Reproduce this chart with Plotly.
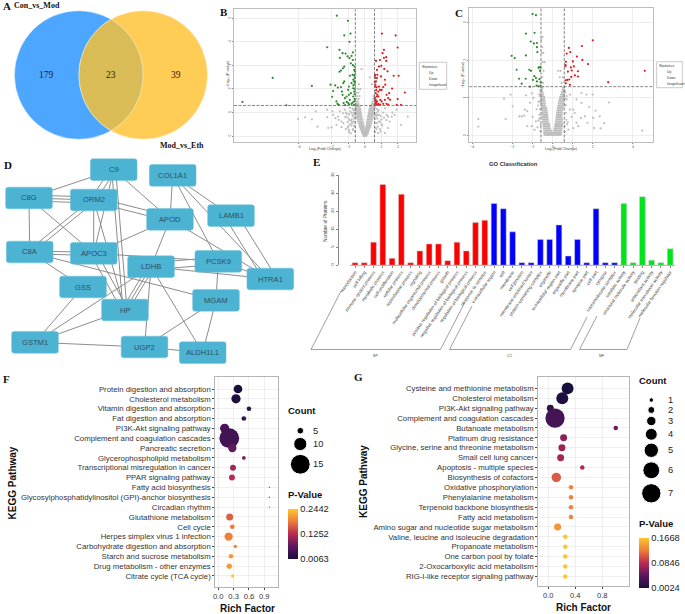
import numpy as np
import plotly.graph_objects as go

W, H = 685, 614
SANS = "Liberation Sans"
SERIF = "Liberation Serif"

# ---------- Panel A ----------
venn_counts = [179, 23, 39]
venn_names = ["Con_vs_Mod", "Mod_vs_Eth"]

# ---------- Panels B, C: volcano values (log2FC, -log10 P) ----------
b_down_x = [-1.70,-1.03,-1.25,-.87,-.93,-5.58,-3.21,-7.41,-4.75,-2.28,-1.54,-1.35,-1.17,-1.52,-1.05,-.93,-.73,-.81,-.73,-.85,-.73,-.63,-1.25,-1.33,-1.45,-1.54,-.65,-.75,-.91,-.65,-2.08,-1.80,-1.25,-1.31,-1.64,-1.45,-1.92,-1.39,-1.98,-1.35,-1.72,-1.66,-1.58,-1.01,-.97,-.81,-.71,-.65,-.85,-.97,-.71,-.65,-1.21,-1.11,-.91,-1.29,-.71,-.65,-.81,-1.01,-.65,-.62,-.62,-.62,-.62,-.62,-.62,-.7,-.75,-.95,-1.1,-1.2,-.6,-.6]
b_down_y = [5.11,4.89,4.27,4.35,4.0,2.47,2.13,1.45,1.31,3.77,3.66,3.52,3.50,3.32,3.38,3.31,3.55,3.40,3.23,3.09,3.01,2.95,2.95,2.88,2.78,2.73,2.81,2.60,2.56,2.56,2.18,2.15,2.32,2.25,2.06,2.08,1.91,1.89,1.67,1.75,1.47,1.37,1.33,1.96,2.10,2.25,2.39,2.32,1.82,1.75,2.03,1.89,1.61,1.68,1.54,1.40,1.68,1.47,1.37,1.40,1.33,2.6,2.45,2.2,2.0,1.78,1.58,2.15,1.42,1.34,1.45,1.32,2.75,2.3]
b_up_x = [1.03,1.86,1.98,1.15,1.07,1.29,1.15,.91,.67,1.29,.85,.73,.99,1.17,1.37,1.74,2.04,.97,.61,.75,.61,.73,.67,.63,2.42,1.64,1.21,1.23,1.11,1.01,1.98,1.92,2.18,1.47,1.31,1.41,1.21,1.52,1.01,1.11,1.31,.91,1.41,.81,.91,.85,.71,.81,.65,.71,.65,.73,.65,.81,.93,.6,.6,.62,.68,.75,.6,.62,.66,.7,.6,.78]
b_up_y = [4.35,4.27,3.76,3.66,3.52,3.35,3.32,3.23,3.19,3.19,2.95,2.81,2.98,2.85,2.75,2.56,2.56,2.53,2.60,2.60,2.46,2.46,2.32,2.18,1.85,2.02,2.39,2.18,2.08,1.96,1.57,1.33,1.33,1.82,1.75,1.61,1.54,1.54,1.47,1.37,1.37,1.34,1.34,1.68,1.96,2.10,2.07,1.89,1.82,1.68,1.54,1.47,1.40,1.37,1.54,2.55,2.3,2.1,1.95,1.75,1.62,1.5,1.42,1.35,1.32,1.32]
b_grey_rows = [
 (.02,[-.08,-.04,0,.04,.09]),(.08,[-.13,-.08,-.03,.03,.07,.12,.16]),(.15,[-.17,-.11,-.06,-.02,.02,.06,.12,.18]),
 (.22,[-.2,-.15,-.09,-.04,.04,.09,.15,.21]),(.3,[-.26,-.19,-.12,-.06,.06,.12,.19,.27]),(.38,[-.3,-.23,-.15,-.08,.08,.15,.23,.31]),
 (.46,[-.33,-.26,-.18,-.1,.1,.17,.25,.34]),(.54,[-.36,-.28,-.2,-.12,.12,.2,.28,.38]),(.62,[-.41,-.32,-.23,-.15,.14,.22,.3,.4]),
 (.7,[-.44,-.36,-.26,-.17,.16,.25,.33,.43]),(.78,[-.47,-.39,-.29,-.2,.18,.27,.36,.46]),(.86,[-.5,-.41,-.31,-.22,.2,.29,.38,.48]),
 (.94,[-.53,-.43,-.33,-.24,.23,.31,.41,.5]),(1.02,[-.55,-.46,-.36,-.26,.25,.34,.44,.53]),(1.1,[-.56,-.48,-.38,-.28,.27,.36,.46,.55]),
 (1.18,[-.56,-.5,-.4,-.3,.29,.38,.48,.56]),(1.26,[-.57,-.5,-.42,-.33,.31,.4,.5,.57]),(1.36,[-.55,-.46,-.38,.4,.5,.56]),
 (1.46,[-.54,-.42,.45,.55]),(1.58,[-.5,-.38,.5]),(1.7,[-.47,-.32,.52]),(1.84,[-.52,-.4]),(2.0,[-.42,-.28]),
 (2.2,[-.36,.42]),(2.49,[.3]),(2.84,[-.2])]
b_grey_out_x = [-4.04,-3.62,-3.21,-2.97,-2.87,-2.28,-2.28,-2.22,-2.02,-1.96,-1.92,-1.78,-1.72,-1.62,-1.52,-1.42,-1.58,-1.42,-1.32,-1.22,-1.12,-1.0,-1.16,-.91,-.97,-.81,-.71,-.9,-1.1,-.78,-.66,-.72,-.85,-.95,-1.05,-.7,-.8,-.65,-.68,2.59,2.18,1.66,1.4,1.92,1.62,1.32,1.11,1.01,.81,.91,.8,1.21,1.4,1.8,1.21,.7,.66,.75,.85,.95,1.05,.68,.72,1.5,
 -1.3,-1.15,-1.0,-.88,-.76,-.66,-.6,-.62,-.75,-.9,-1.05,-.62,-.7,-.82,-.95,-.62,-.72,-.84,-1.2,-.6,.62,.7,.82,.95,.62,.72,.85,1.0,.66,.78,.9,1.15,.62,.74,1.3,.6]
b_grey_out_y = [.73,.8,.71,1.05,.4,1.12,.8,.35,.37,1.05,.9,.76,.48,.83,1.05,.62,.69,.38,.97,1.12,.83,.42,.3,.68,.17,.98,1.12,1.2,.95,.55,.75,.3,.12,.25,.6,.9,.7,.45,1.0,.83,.48,1.0,.34,1.12,.83,.9,1.0,.7,1.05,.6,.13,.13,.83,.9,1.18,.3,.55,.75,.9,.2,.45,.85,1.15,.62,
 .55,1.0,.75,1.05,1.18,1.1,.95,.8,.85,.5,.35,.6,.62,.45,.92,.4,.25,.65,.8,.2,.92,1.0,1.1,.85,.72,.55,.62,.5,.35,.4,.3,.78,.18,.9,.68,1.22]

c_down_x = [-1.0,-.83,-1.33,-.9,-1.09,-.93,-.78,-.78,-.76,-1.33,-2.04,-1.89,-1.79,-1.16,-1.08,-.66,-.6,-.7,-.63,-1.67,-1.34,-.91,-.98,-1.54,-.83,-.66,-.78,-.6,-1.13,-.8,-.7,-.6]
c_down_y = [3.23,3.2,2.71,2.73,2.5,2.45,2.46,2.35,2.22,2.13,2.12,2.06,1.75,1.75,1.72,1.82,1.82,1.8,1.72,1.51,1.51,1.58,1.48,1.38,1.53,1.5,1.44,1.42,1.3,1.33,1.31,1.33]
c_up_x = [2.0,1.46,.81,.88,.7,1.21,1.48,1.01,.66,1.76,.65,.63,1.06,.91,4.59,1.26,.76,.95,1.11,1.26,.93,.83,.73,.65,.86,2.77,.66]
c_up_y = [2.53,2.38,2.33,2.22,2.18,2.1,2.01,1.97,1.96,1.9,1.87,1.84,1.84,1.81,1.72,1.71,1.7,1.73,1.6,1.57,1.56,1.49,1.48,1.47,1.35,1.42,1.39]
c_grey_rows = [
 (.02,[-.4,-.33,-.26,-.2,-.14,-.08,-.02,.04,.1,.16,.22,.28,.34,.4]),(.07,[-.42,-.35,-.28,-.22,-.16,-.1,-.05,0,.06,.12,.18,.24,.3,.36,.42]),
 (.13,[-.42,-.36,-.3,-.24,-.18,-.12,-.07,.07,.13,.19,.25,.31,.37,.43]),(.19,[-.44,-.38,-.31,-.25,-.2,-.14,.1,.16,.22,.28,.34,.4,.45]),
 (.25,[-.45,-.39,-.33,-.27,-.21,-.16,.12,.18,.24,.3,.36,.42,.47]),(.31,[-.46,-.4,-.34,-.28,-.22,-.17,.14,.2,.26,.32,.38,.44,.49]),
 (.37,[-.48,-.41,-.35,-.29,-.23,.16,.22,.28,.34,.4,.46]),(.43,[-.49,-.42,-.36,-.3,-.24,.18,.24,.3,.36,.42,.47]),
 (.49,[-.49,-.43,-.37,-.31,-.26,.2,.26,.32,.38,.44]),(.55,[-.5,-.44,-.38,-.32,-.27,.21,.27,.33,.39,.45]),
 (.61,[-.51,-.45,-.39,-.33,-.28,.22,.28,.34,.4,.46]),(.67,[-.52,-.46,-.4,-.34,-.29,.24,.3,.36,.42,.48]),
 (.73,[-.53,-.47,-.42,-.36,-.31,.26,.32,.38,.44,.5]),(.79,[-.54,-.48,-.43,-.37,.28,.34,.4,.46,.51]),
 (.85,[-.55,-.49,-.44,-.38,.3,.36,.42,.48,.53]),(.91,[-.56,-.5,-.45,-.4,.32,.38,.44,.5,.54]),
 (.97,[-.57,-.52,-.46,-.41,.35,.41,.47,.52,.56]),(1.03,[-.57,-.53,-.47,-.42,.38,.44,.5,.55]),
 (1.09,[-.57,-.52,-.47,.42,.48,.53,.57]),(1.15,[-.56,-.5,.46,.52,.56]),(1.21,[-.57,-.53,.5,.55]),(1.27,[-.57,-.5,.52,.56]),
 (1.4,[-.55,-.48,.45]),(1.55,[-.52,.5,.35]),(1.72,[-.45,.28,.4]),(1.95,[-.5,-.4]),(2.2,[-.46,-.53]),(2.35,[-.52]),(2.55,[-.56]),(2.62,[-.5])]
c_grey_out_x = [-3.7,-3.7,-2.42,-2.09,-1.99,-2.34,-1.66,-1.54,-1.26,-1.33,-1.04,-.96,-1.26,-1.04,-.83,-1.0,-1.13,-1.42,-1.38,-.7,-.8,-.65,-.9,-.75,4.46,2.8,2.57,2.39,2.06,2.14,2.35,2.02,1.82,1.61,1.41,1.74,1.99,1.44,1.19,1.69,.86,1.19,1.03,1.28,1.03,1.44,.7,.86,.78,.95,.65,.72,1.1,.62,
 -.62,-.62,-.62,-.62,-.65,-.66,-.7,-.72,-.6,-.6,.62,.62,.64,.66,.68,.7,.6,.6,.75]
c_grey_out_y = [.44,.24,.98,1.09,.78,.44,.51,.51,.65,1.07,1.12,1.0,.25,.25,.38,.5,.87,.53,.69,.9,.7,.45,.15,.22,.13,.88,.33,.19,.2,.66,.51,.47,.76,.51,.47,.34,1.09,1.13,.96,1.09,1.09,.34,.2,.25,.69,.87,.96,.69,.16,.5,.8,.3,.6,1.15,
 1.2,1.05,.9,.7,.55,1.1,.4,.8,.28,.12,1.18,.98,.82,.6,.42,1.05,.25,.1,.35]

# ---------- Panel D ----------
net_names = ["C9","COL1A1","C8G","ORM2","APOD","LAMB1","C8A","APOC3","LDHB","PCSK9","HTRA1","GSS","MGAM","HP","GSTM1","UGP2","ALDH1L1"]
net_edges = [("C9","C8G",0),("C9","ORM2",-2),("C9","ORM2",3),("C9","APOD",0),("C9","HP",-2),("C9","HP",2),("C9","APOC3",0),
 ("C8G","ORM2",-3),("C8G","ORM2",0),("C8G","ORM2",3),("C8G","APOC3",0),("C8G","C8A",0),
 ("ORM2","C8A",-2),("ORM2","C8A",2),("ORM2","APOC3",0),("ORM2","HP",0),("ORM2","APOD",-3),("ORM2","APOD",2),
 ("APOD","APOC3",0),("APOD","LDHB",0),("APOD","HTRA1",0),("COL1A1","APOD",0),("COL1A1","LAMB1",0),("COL1A1","HTRA1",0),("COL1A1","PCSK9",0),
 ("LAMB1","HTRA1",-6),("LAMB1","HTRA1",6),("C8A","APOC3",-1),("C8A","APOC3",2),("C8A","GSS",0),("C8A","MGAM",0),
 ("APOC3","PCSK9",0),("APOC3","HP",-3),("APOC3","HP",3),("LDHB","PCSK9",-4),("LDHB","PCSK9",3),("LDHB","HTRA1",0),
 ("LDHB","HP",-3),("LDHB","HP",0),("LDHB","HP",3),("LDHB","GSTM1",0),("LDHB","UGP2",0),("LDHB","ALDH1L1",0),
 ("PCSK9","HTRA1",0),("PCSK9","MGAM",0),("GSS","GSTM1",0),("HP","GSTM1",0),("GSTM1","UGP2",0),("UGP2","MGAM",0),("UGP2","ALDH1L1",0),("MGAM","ALDH1L1",0)]

# ---------- Panel E ----------
go_terms = ["reproduction","cell killing","immune system process","metabolic process","cell proliferation","cellular process","reproductive process","signaling","multicellular organismal process","developmental process","growth","positive regulation of biological process","negative regulation of biological process","regulation of biological process","response to stimulus",
 "extracellular region","cell","membrane","cell junction","membrane-enclosed lumen","protein-containing complex","organelle","extracellular region part","organelle part","membrane part","synapse part","cell part","synapse","supramolecular complex",
 "catalytic activity","structural molecule activity","binding","antioxidant activity","molecular transducer activity","molecular function regulator"]
go_counts = [1,1,9,31.4,2.7,27.6,1,5.6,8.3,8.3,1.8,9,5.6,16.6,17.5, 24,22,13,1,1,10,10,15.7,3.6,10,1,22,1,1, 24,1,26.7,2,1,6.4]
go_groups = ["BP"]*15 + ["CC"]*14 + ["MF"]*6
go_colors = {"BP":"#FF0000","CC":"#0000FF","MF":"#00E51A"}
go_yticks = [0,7,14,21,28,35]
go_yticklabels = ["0","5","15","20","30","35"]

# ---------- Panel F ----------
f_terms = ["Protein digestion and absorption","Cholesterol metabolism","Vitamin digestion and absorption","Fat digestion and absorption","PI3K-Akt signaling pathway","Complement and coagulation cascades","Pancreatic secretion","Glycerophospholipid metabolism","Transcriptional misregulation in cancer","PPAR signaling pathway","Fatty acid biosynthesis","Glycosylphosphatidylinositol (GPI)-anchor biosynthesis","Circadian rhythm","Glutathione metabolism","Cell cycle","Herpes simplex virus 1 infection","Carbohydrate digestion and absorption","Starch and sucrose metabolism","Drug metabolism - other enzymes","Citrate cycle (TCA cycle)"]
f_rich = [.385,.346,.60,.50,.124,.215,.274,.50,.287,.267,1.0,1.0,1.0,.222,.274,.202,.333,.248,.215,.28]
f_count = [6.6,7,3.5,3.5,7,15,6.3,2.8,4.5,4.5,1,1,1,5.3,3.5,6.3,2.5,3.5,4,2.5]
f_p = [.0063,.012,.03,.035,.05,.045,.07,.085,.11,.125,.13,.13,.13,.165,.185,.19,.19,.21,.21,.2442]
f_legend_counts = [5,10,15]
f_pticks = [.0063,.1252,.2442]

# ---------- Panel G ----------
g_terms = ["Cysteine and methionine metabolism","Cholesterol metabolism","PI3K-Akt signaling pathway","Complement and coagulation cascades","Butanoate metabolism","Platinum drug resistance","Glycine, serine and threonine metabolism","Small cell lung cancer","Apoptosis - multiple species","Biosynthesis of cofactors","Oxidative phosphorylation","Phenylalanine metabolism","Terpenoid backbone biosynthesis","Fatty acid metabolism","Amino sugar and nucleotide sugar metabolism","Valine, leucine and isoleucine degradation","Propanoate metabolism","One carbon pool by folate","2-Oxocarboxylic acid metabolism","RIG-I-like receptor signaling pathway"]
g_rich = [.286,.207,.03,.10,1.0,.227,.202,.183,.504,.119,.336,.336,.336,.336,.138,.252,.252,.252,.252,.252]
g_count = [4,4,2,7,1,2,2,2,1,3,1,1,1,1,2,1,1,1,1,1]
g_p = [.0024,.008,.02,.03,.05,.065,.07,.075,.08,.11,.13,.13,.13,.13,.14,.1668,.1668,.1668,.1668,.1668]
g_legend_counts = [1,2,3,4,5,6,7]
g_pticks = [.0024,.0846,.1668]

# ---------- layout constants ----------
node_pos = dict(zip(net_names, [(113.7,169.7),(172.7,175.3),(29,198),(93.7,200),(170,219.3),(231,215.7),(29.7,252),(93.7,253.3),(151,266.7),(218.3,261.3),(270.3,279),(83,287),(216,300.3),(125,310),(35,342.3),(144.5,347),(202.7,352.7)]))
MAGMA = [[0,"#170F3C"],[.25,"#5B1660"],[.5,"#B92B52"],[.75,"#EE7B3C"],[1,"#FCC62F"]]

def px(x): return x / W
def py(y): return 1 - y / H
def xdom(a, b): return [a / W, b / W]
def ydom(top, bottom): return [1 - bottom / H, 1 - top / H]

shapes, annos = [], []
def text(x, y, s, size, color="#222", bold=False, family=SANS, xa="center", angle=0):
    annos.append(dict(x=px(x), y=py(y), xref="paper", yref="paper", text=f"<b>{s}</b>" if bold else s, showarrow=False,
                      xanchor=xa, yanchor="middle", textangle=angle, borderpad=0, borderwidth=0,
                      font=dict(family=family, size=size, color=color)))
def pline(x0, y0, x1, y1, color="#8c8c8c", width=1, dash="solid"):
    shapes.append(dict(type="line", xref="paper", yref="paper", x0=px(x0), y0=py(y0), x1=px(x1), y1=py(y1),
                       line=dict(color=color, width=width, dash=dash)))
def prect(x0, y0, x1, y1, line="#BDBDBD", width=1, fill="rgba(0,0,0,0)"):
    shapes.append(dict(type="rect", xref="paper", yref="paper", x0=px(x0), y0=py(y0), x1=px(x1), y1=py(y1),
                       line=dict(color=line, width=width), fillcolor=fill))

fig = go.Figure()

# --- A: Venn ---
cxl, cxr, cy, rv = 78.7, 143.3, 75, 64.3
for cx, col in ((cxl, "#4DA6FF"), (cxr, "#FFCC55")):
    shapes.append(dict(type="circle", xref="paper", yref="paper", x0=px(cx-rv), x1=px(cx+rv), y0=py(cy+rv), y1=py(cy-rv),
                       fillcolor=col, line=dict(color="#FFFFFF", width=0.5)))
half = np.arccos((cxr - cxl) / 2 / rv)
t1 = np.linspace(-half, half, 40)
lens_x = np.r_[cxl + rv*np.cos(t1), cxr - rv*np.cos(t1[::-1])]
lens_y = np.r_[cy + rv*np.sin(t1), cy + rv*np.sin(t1[::-1])]
lens = "M" + "L".join(f"{px(a):.5f},{py(b):.5f}" for a, b in zip(lens_x, lens_y)) + "Z"
shapes.append(dict(type="path", xref="paper", yref="paper", path=lens, fillcolor="#D9BC55", line=dict(color="#F0EAD0", width=0.7)))
for xx, v in zip((46.7, 111, 175.7), venn_counts):
    text(xx, 75, str(v), 9.5, "#222", family=SERIF)
text(13.5, 5, venn_names[0], 8, "#111", True, SERIF, "left")
text(160, 145, venn_names[1], 8, "#111", True, SERIF, "left")

# --- B, C: volcano ---
def rows(r):
    xs, ys = [], []
    for y, vals in r:
        xs += vals; ys += [y]*len(vals)
    return xs, ys

def volcano(ax, gx, gy, ox, oy, dx, dy, ux, uy):
    xa, ya = "x" + ax, "y" + ax
    fig.add_trace(go.Scatter(x=gx+ox, y=gy+oy, xaxis=xa, yaxis=ya, mode="markers", marker=dict(size=2.2, color="#BEBEBE"), showlegend=False))
    fig.add_trace(go.Scatter(x=dx, y=dy, xaxis=xa, yaxis=ya, mode="markers", marker=dict(size=2.2, color="#2E8B2E"), showlegend=False))
    fig.add_trace(go.Scatter(x=ux, y=uy, xaxis=xa, yaxis=ya, mode="markers", marker=dict(size=2.2, color="#E41A1C"), showlegend=False))
    for v in (-0.58, 0.58):
        shapes.append(dict(type="line", xref=xa, yref=f"{ya} domain", x0=v, x1=v, y0=0, y1=1, line=dict(color="#666", width=0.8, dash="3px,1.5px")))
    shapes.append(dict(type="line", xref=f"{xa} domain", yref=ya, x0=0, x1=1, y0=1.3, y1=1.3, line=dict(color="#666", width=0.8, dash="3px,1.5px")))

bgx, bgy = rows(b_grey_rows)
volcano("", bgx, bgy, b_grey_out_x, b_grey_out_y, b_down_x, b_down_y, b_up_x, b_up_y)
cgx, cgy = rows(c_grey_rows)
volcano("2", cgx, cgy, c_grey_out_x, c_grey_out_y, c_down_x, c_down_y, c_up_x, c_up_y)

vol_axis = dict(showgrid=True, gridcolor="#EDEDED", gridwidth=0.5, zeroline=False, showline=True, mirror=True, linecolor="#BDBDBD", linewidth=1,
                ticks="outside", ticklen=1, tickwidth=0.4, tickcolor="#888", tickfont=dict(family=SANS, size=3.5, color="#555"))

def vleg(bx0, by0, bx1, by1, tx, ty, mx, my, lx):
    prect(bx0, by0, bx1, by1, "#BDBDBD", 0.8, "#FFFFFF")
    text(tx, ty, "Statistics", 3.8, "#333", xa="left")
    for yy, lab in zip(my, ("Up", "Down", "Insignificant")):
        text(lx, yy, lab, 3.3, "#333", xa="left")
    fig.add_trace(go.Scatter(x=[mx]*3, y=my, xaxis="x6", yaxis="y6", mode="markers",
                             marker=dict(size=2.4, opacity=1, color=["#E41A1C", "#2E8B2E", "#BEBEBE"]), showlegend=False))

text(325.3, 149.3, "Log₂(Fold Change)", 3.8, "#444")
text(227.7, 74, "−Log₁₀(P-value)", 3.8, "#444", angle=-90)
text(561.5, 149.3, "Log₂(Fold Change)", 3.8, "#444")
text(462.5, 75, "−Log₁₀(P-value)", 3.8, "#444", angle=-90)

# --- D: network ---
nw, nh, rr = 46.7, 21.7, 2.5
for a, b, off in net_edges:
    (x0, y0), (x1, y1) = node_pos[a], node_pos[b]
    L = np.hypot(x1-x0, y1-y0); ox, oy = -(y1-y0)/L*off, (x1-x0)/L*off
    pline(x0+ox, y0+oy, x1+ox, y1+oy, "#8C8C8C", 1)
for n in net_names:
    x, y = node_pos[n]
    l, r_, t, b = x-nw/2, x+nw/2, y-nh/2, y+nh/2
    P = lambda a, c: f"{px(a):.5f},{py(c):.5f}"
    path = (f"M{P(l+rr,t)}L{P(r_-rr,t)}Q{P(r_,t)} {P(r_,t+rr)}L{P(r_,b-rr)}Q{P(r_,b)} {P(r_-rr,b)}"
            f"L{P(l+rr,b)}Q{P(l,b)} {P(l,b-rr)}L{P(l,t+rr)}Q{P(l,t)} {P(l+rr,t)}Z")
    shapes.append(dict(type="path", xref="paper", yref="paper", path=path, fillcolor="#4DB3D3", line=dict(color="#6FC0DA", width=0.5)))
    text(x, y, n, 7.6, "#2F4F5F")

# --- E: bars ---
fig.add_trace(go.Bar(x=list(range(len(go_terms))), y=go_counts, xaxis="x3", yaxis="y3", width=0.62,
                     marker=dict(color=[go_colors[g] for g in go_groups], line=dict(color="#D0D0D0", width=0.5)), showlegend=False))
pline(350, 265.3, 675, 265.3, "#888", 0.7)
text(513, 164.3, "GO Classification", 5.8, "#333", True)
text(326, 221, "Number of Proteins", 4.8, "#444", angle=-90)
for pts in ([(341, 291), (311, 349.5), (440.5, 349.5), (465, 302)],
            [(472, 306), (449.5, 349.5), (570.5, 349.5), (587, 317)],
            [(597, 316), (579.5, 349.5), (627, 349.5), (640, 318)]):
    for (a, b), (c, d) in zip(pts[:-1], pts[1:]):
        pline(a, b, c, d, "#777", 0.7)
text(375.7, 355.7, "BP", 3.6, "#444")
text(509.7, 355.7, "CC", 3.6, "#444")
text(602.3, 355.7, "MF", 3.6, "#444")

# --- F, G: dot plots ---
def dot(ax, terms, rich, sizes, p, ptk, cb_x, cb_top, cb_bot):
    fig.add_trace(go.Scatter(x=rich, y=terms, xaxis="x"+ax, yaxis="y"+ax, mode="markers", showlegend=False,
        marker=dict(size=sizes, sizemode="diameter", opacity=1, color=p, colorscale=MAGMA, cmin=min(p), cmax=max(p), line=dict(width=0),
                    colorbar=dict(x=px(cb_x), xanchor="left", xref="paper", y=py(cb_bot), yanchor="bottom", yref="paper",
                                  len=cb_bot-cb_top, lenmode="pixels", thickness=10, thicknessmode="pixels",
                                  outlinewidth=0, ticks="", xpad=0, ypad=0, ticklabelposition="outside",
                                  tickvals=ptk, ticktext=[f"{v:.4f}" for v in ptk],
                                  tickfont=dict(family=SANS, size=9.3, color="#222")))))

f_sizes = [1.32*c for c in f_count]
g_sizes = [4.5+2.47*(c-1) for c in g_count]
dot("4", f_terms, f_rich, f_sizes, f_p, f_pticks, 288, 509, 559)
dot("5", g_terms, g_rich, g_sizes, g_p, g_pticks, 639, 537.7, 587.7)

def dot_axes(terms, top_idx):
    return dict(type="category", categoryorder="array", categoryarray=terms, range=top_idx, showgrid=True, gridcolor="#EFEFEF", gridwidth=0.7,
                zeroline=False, showline=True, mirror=True, linecolor="#B5B5B5", linewidth=1, ticks="outside", ticklen=2, tickwidth=0.6, tickcolor="#444",
                tickfont=dict(family=SANS, size=7.8, color="#333"), automargin=False)
def dot_x(rng, ticks, fmt):
    return dict(range=rng, tickvals=ticks, ticktext=[fmt % t for t in ticks], showgrid=True, gridcolor="#EFEFEF", gridwidth=0.7, zeroline=False, showline=True,
                mirror=True, linecolor="#B5B5B5", linewidth=1, ticks="outside", ticklen=2, tickwidth=0.6, tickcolor="#444",
                tickfont=dict(family=SANS, size=7.6, color="#333"))

text(12.7, 482.7, "KEGG Pathway", 10, "#111", True, angle=-90)
text(247, 608.7, "Rich Factor", 10, "#111", True)
text(363.3, 481.7, "KEGG Pathway", 10, "#111", True, angle=-90)
text(583.7, 607.7, "Rich Factor", 10, "#111", True)
text(288, 410.7, "Count", 9.5, "#111", True, xa="left")
text(288, 494, "P-Value", 9.5, "#111", True, xa="left")
text(639, 380, "Count", 9.5, "#111", True, xa="left")
text(639, 523, "P-Value", 9.5, "#111", True, xa="left")
f_leg_y = (430.7, 444, 464.3)
g_leg_y = (400, 410, 421, 434.3, 450.3, 470.3, 493.3)
fig.add_trace(go.Scatter(x=[300.3]*3, y=f_leg_y, xaxis="x6", yaxis="y6", mode="markers", showlegend=False,
                         marker=dict(size=[1.32*c for c in f_legend_counts], opacity=1, color="#000")))
fig.add_trace(go.Scatter(x=[651.3]*7, y=g_leg_y, xaxis="x6", yaxis="y6", mode="markers", showlegend=False,
                         marker=dict(size=[4.5+2.47*(c-1) for c in g_legend_counts], opacity=1, color="#000")))
for yy, c in zip(f_leg_y, f_legend_counts):
    text(312.5, yy, str(c), 9.3, "#222", xa="left")
for yy, c in zip(g_leg_y, g_legend_counts):
    text(667.5, yy, str(c), 9.3, "#222", xa="left")

# legends of B and C (after overlay use)
vleg(419.3, 62.3, 446.7, 89.3, 421.7, 66.7, 424.3, [72.7, 78.7, 84.7], 429)
vleg(656.7, 61.7, 682.3, 87.7, 659, 65.7, 662.3, [71.7, 77.7, 83.7], 666.7)

# panel letters
for s, x, y in (("A",7,6),("B",223.7,12.3),("C",459.3,12.7),("D",8,165.3),("E",316.3,161.7),("F",6.7,379),("G",358,377.3)):
    text(x, y, s, 11, "#111", True, SERIF)

fig.update_layout(
    width=W, height=H, autosize=False, margin=dict(l=0, r=0, t=0, b=0, pad=0, autoexpand=False),
    paper_bgcolor="#FFFFFF", plot_bgcolor="rgba(0,0,0,0)", showlegend=False, shapes=shapes, annotations=annos, bargap=0.3,
    font=dict(family=SANS),
    xaxis=dict(domain=xdom(234, 416), range=[-7.92, 3.09], tickvals=[-4,-2,-1,0,1,2], anchor="y", **vol_axis),
    yaxis=dict(domain=ydom(9.3, 142), range=[-0.25, 5.38], tickvals=[0,1,2,3,4,5], anchor="x", tickangle=-90, **vol_axis),
    xaxis2=dict(domain=xdom(469.3, 653), range=[-4.15, 5.0], tickvals=[-4,-2,-1,0,1,2,4], anchor="y2", **vol_axis),
    yaxis2=dict(domain=ydom(8, 142), range=[-0.17, 3.39], tickvals=[0,1,2,3], anchor="x2", tickangle=-90, **vol_axis),
    xaxis3=dict(domain=xdom(339, 675), range=[-1.726, 34.52], anchor="y3", tickvals=list(range(len(go_terms))), ticktext=go_terms,
                tickangle=-55, ticks="outside", ticklen=1.5, tickwidth=0.4, tickcolor="#888", tickfont=dict(family=SANS, size=4.5, color="#444"),
                showgrid=False, zeroline=False, showline=False, automargin=False),
    yaxis3=dict(domain=ydom(175.3, 265.3), range=[0, 35], anchor="x3", tickvals=go_yticks, ticktext=go_yticklabels, tickangle=-90,
                ticks="outside", ticklen=2, tickwidth=0.4, tickcolor="#888", tickfont=dict(family=SANS, size=4.2, color="#444"),
                showgrid=False, zeroline=False, showline=True, linecolor="#888", linewidth=0.7),
    xaxis4=dict(domain=xdom(215.3, 278.3), anchor="y4", **dot_x([-0.059, 1.174], [0, .3, .6, .9], "%.1f")),
    yaxis4=dict(domain=ydom(377.3, 587), anchor="x4", **dot_axes(f_terms, [20.12, -1.19])),
    xaxis5=dict(domain=xdom(538.3, 629), anchor="y5", **dot_x([-0.148, 1.196], [0, .4, .8], "%.1f")),
    yaxis5=dict(domain=ydom(376.7, 586.3), anchor="x5", **dot_axes(g_terms, [20.0, -1.18])),
    xaxis6=dict(domain=[0, 1], range=[0, W], visible=False, anchor="y6", fixedrange=True),
    yaxis6=dict(domain=[0, 1], range=[H, 0], visible=False, anchor="x6", fixedrange=True),
)
fig.write_html("out.html", config={"displayModeBar": False}, post_script="document.body.style.margin='0';document.body.style.overflow='hidden';")
